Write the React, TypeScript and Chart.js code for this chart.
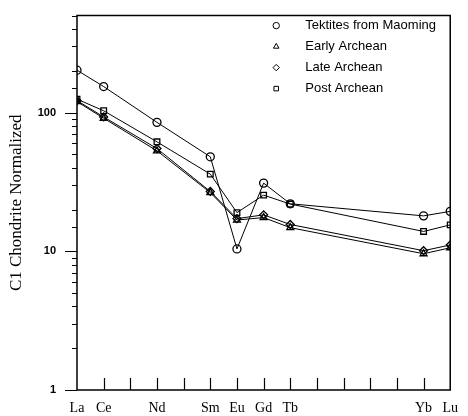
import React, { useEffect, useRef } from 'react';
import { Chart, registerables } from 'chart.js';
import { drawPoint } from 'chart.js/helpers';

Chart.register(...registerables);

// REE categories placed by atomic number
const elements = ['La', 'Ce', 'Nd', 'Sm', 'Eu', 'Gd', 'Tb', 'Yb', 'Lu'];
const atomicNumbers = [57, 58, 60, 62, 63, 64, 65, 70, 71];

const tektites = [202, 154, 85, 48, 10.4, 31, 22, 18, 19.4];
const earlyArchean = [120, 91, 53, 26.5, 16.8, 17.5, 14.8, 9.6, 10.6];
const lateArchean = [122, 93, 55, 27, 17.2, 18.3, 15.6, 10.1, 11.1];
const postArchean = [125, 103, 61.5, 36, 19, 25.4, 21.9, 13.9, 15.5];

const seriesNames = ['Tektites from Maoming', 'Early Archean', 'Late Archean', 'Post Archean'];
const seriesMarkers = ['circle', 'triangle', 'rectRot', 'rect'];
const majorTicks = [1, 10, 100];
const yMin = 1;
const yMax = 500;
const yTitle = 'C1 Chondrite Normalized';

const framePlugin = {
  id: 'frame',
  afterDraw(chart: any) {
    const { ctx, chartArea, scales } = chart;
    const { left, right, top, bottom } = chartArea;
    const x = scales.x;
    const y = scales.y;
    ctx.save();
    ctx.strokeStyle = '#000';
    ctx.lineWidth = 1.5;
    ctx.beginPath();
    ctx.rect(left, top, right - left, bottom - top);
    ctx.stroke();
    ctx.lineWidth = 1.2;
    ctx.beginPath();
    y.ticks.forEach((t: any) => {
      const py = Math.round(y.getPixelForValue(t.value)) + 0.5;
      const len = majorTicks.includes(t.value) ? 12 : 5;
      ctx.moveTo(left - len, py);
      ctx.lineTo(left, py);
    });
    x.ticks.forEach((t: any) => {
      if (t.value <= x.min || t.value >= x.max) return;
      const px = Math.round(x.getPixelForValue(t.value)) + 0.5;
      ctx.moveTo(px, bottom);
      ctx.lineTo(px, bottom - 12);
    });
    ctx.stroke();

    // legend inside plot
    ctx.font = '13px "Liberation Sans", Arial, sans-serif';
    ctx.textBaseline = 'middle';
    ctx.textAlign = 'left';
    chart.data.datasets.forEach((ds: any, i: number) => {
      const ly = top + 10 + 21 * i;
      const mx = right - 174;
      ctx.lineWidth = 1;
      ctx.strokeStyle = '#000';
      ctx.fillStyle = '#fff';
      drawPoint(ctx, { pointStyle: ds.pointStyle, radius: 3.2, borderWidth: 1, rotation: 0 } as any, mx, ly);
      ctx.fillStyle = '#000';
      ctx.fillText(ds.label, right - 145, ly);
    });
    ctx.restore();
  },
};

export default function App() {
  const ref = useRef<HTMLCanvasElement>(null);
  useEffect(() => {
    if (!ref.current) return;
    const all = [tektites, earlyArchean, lateArchean, postArchean];
    const chart = new Chart(ref.current, {
      type: 'line',
      data: {
        datasets: all.map((vals, i) => ({
          label: seriesNames[i],
          data: atomicNumbers.map((n, j) => ({ x: n, y: vals[j] })),
          borderColor: '#000',
          borderWidth: 1,
          pointStyle: seriesMarkers[i] as any,
          pointRadius: 4,
          pointBorderWidth: 1.3,
          pointBorderColor: '#000',
          pointBackgroundColor: 'rgba(255,255,255,0)',
          fill: false,
          tension: 0,
        })),
      },
      options: {
        responsive: false,
        animation: false,
        layout: { padding: { top: 14, right: 13, left: 0, bottom: 0 } },
        plugins: { legend: { display: false }, tooltip: { enabled: false } },
        scales: {
          x: {
            type: 'linear',
            min: 57,
            max: 71,
            afterFit: (s: any) => { s.height = 26; },
            grid: { display: false, drawTicks: false },
            border: { display: false },
            ticks: {
              stepSize: 1,
              autoSkip: false,
              maxRotation: 0,
              padding: 10,
              color: '#000',
              font: { family: '"Liberation Serif", "Times New Roman", serif', size: 14 },
              callback: (v: any) => {
                const i = atomicNumbers.indexOf(Number(v));
                return i >= 0 ? elements[i] : '';
              },
            },
          },
          y: {
            type: 'logarithmic',
            min: yMin,
            max: yMax,
            afterFit: (s: any) => { s.width = 77; },
            grid: { display: true, drawOnChartArea: false, drawTicks: true, tickLength: 12, tickColor: 'rgba(0,0,0,0)' },
            border: { display: false },
            title: {
              display: true,
              text: yTitle,
              color: '#000',
              font: { family: '"Liberation Serif", "Times New Roman", serif', size: 17 },
              padding: { top: 6, bottom: 0 },
            },
            ticks: {
              autoSkip: false,
              padding: 9,
              color: '#000',
              font: { family: '"Liberation Sans", Arial, sans-serif', size: 11, weight: 'bold' },
              callback: (v: any) => (majorTicks.includes(Number(v)) ? String(v) : ''),
            },
          },
        },
      },
      plugins: [framePlugin],
    });
    return () => chart.destroy();
  }, []);
  return (
    <div style={{ position: 'absolute', left: 0, top: 0, width: 468, height: 416, background: '#fff' }}>
      <canvas ref={ref} width={468} height={416} />
    </div>
  );
}
